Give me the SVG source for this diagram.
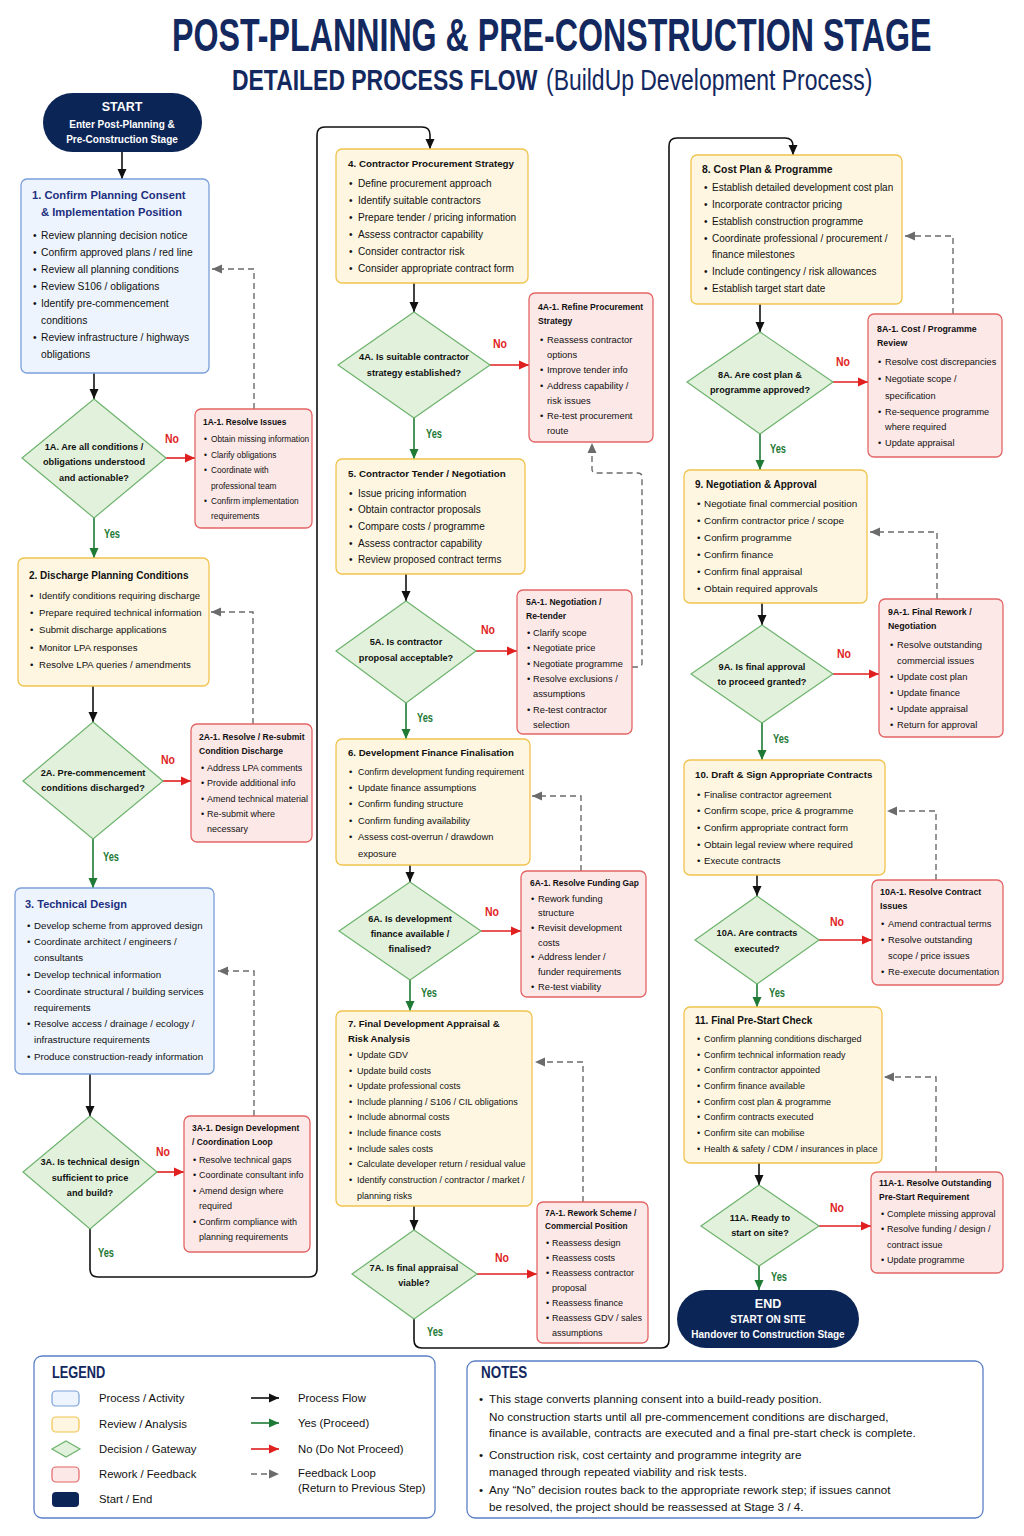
<svg xmlns="http://www.w3.org/2000/svg" width="1024" height="1536" viewBox="0 0 1024 1536">
<style>
text{font-family:"Liberation Sans",Arial,Helvetica,sans-serif;dominant-baseline:central;fill:#111}
.ttl{dominant-baseline:alphabetic;fill:#13285e;font-weight:bold}
.t{font-weight:bold}
.bt{font-weight:bold;fill:#1c2f80}
.pb>rect{fill:#edf4fd;stroke:#7b9fd9;stroke-width:1.3}
.yb>rect{fill:#fef6e1;stroke:#f1c34e;stroke-width:1.3}
.rb>rect{fill:#fde8e8;stroke:#e36464;stroke-width:1.3}
.dm>polygon{fill:#e2f1dc;stroke:#6db36d;stroke-width:1.2}
.dm text{font-weight:bold;text-anchor:middle;font-size:9.2px}
.se>rect{fill:#0c2557}
.se text{fill:#fff;font-weight:bold;text-anchor:middle}
.flow{fill:none;stroke:#111;stroke-width:1.6;marker-end:url(#ab)}
.yes{fill:none;stroke:#1e7a34;stroke-width:1.6;marker-end:url(#ag)}
.no{fill:none;stroke:#e01f1f;stroke-width:1.6;marker-end:url(#ar)}
.fb{fill:none;stroke:#6b6b6b;stroke-width:1.4;stroke-dasharray:6 4;marker-end:url(#ay)}
.ly{fill:#1e7a34;font-weight:bold;font-size:13px;text-anchor:middle}
.ln{fill:#e01f1f;font-weight:bold;font-size:13px;text-anchor:middle}
.box{fill:#fff;stroke:#5b7fc7;stroke-width:1.3}
.lt{font-size:11.3px}
.nt{font-size:11.7px}
.hd{font-weight:bold;fill:#13285e}
</style>
<defs>
<marker id="ab" viewBox="0 0 10 10" refX="10" refY="5" markerWidth="10" markerHeight="10" markerUnits="userSpaceOnUse" orient="auto"><path d="M0,0.5 L10,5 L0,9.5 z" fill="#111"/></marker>
<marker id="ag" viewBox="0 0 10 10" refX="10" refY="5" markerWidth="10" markerHeight="10" markerUnits="userSpaceOnUse" orient="auto"><path d="M0,0.5 L10,5 L0,9.5 z" fill="#1e7a34"/></marker>
<marker id="ar" viewBox="0 0 10 10" refX="10" refY="5" markerWidth="10" markerHeight="10" markerUnits="userSpaceOnUse" orient="auto"><path d="M0,0.5 L10,5 L0,9.5 z" fill="#e01f1f"/></marker>
<marker id="ay" viewBox="0 0 10 10" refX="10" refY="5" markerWidth="10" markerHeight="10" markerUnits="userSpaceOnUse" orient="auto"><path d="M0,0.5 L10,5 L0,9.5 z" fill="#6b6b6b"/></marker>
</defs>
<rect x="0" y="0" width="1024" height="1536" fill="#fff"/>

<g id="title">
<text class="ttl" transform="translate(172,51) scale(0.70,1)" x="0" y="0" font-size="46">POST-PLANNING &amp; PRE-CONSTRUCTION STAGE</text>
<text class="ttl" transform="translate(232,90) scale(0.765,1)" x="0" y="0" font-size="30">DETAILED PROCESS FLOW</text>
<text class="ttl" transform="translate(546,90) scale(0.765,1)" x="0" y="0" font-size="30" style="font-weight:normal">(BuildUp Development Process)</text>
</g>

<g id="connectors">
<path class="flow" d="M122,152 V179"/>
<path class="flow" d="M94,373 V399"/>
<path class="flow" d="M93,686 V722"/>
<path class="flow" d="M90,1074 V1116"/>
<path class="flow" d="M90,1229 V1269 Q90,1277 98,1277 H309 Q317,1277 317,1269 V135 Q317,127 325,127 H422 Q430,127 430,135 V149"/>
<path class="flow" d="M414,283 V312"/>
<path class="flow" d="M406,574 V601"/>
<path class="flow" d="M410,865 V882"/>
<path class="flow" d="M414,1206 V1230"/>
<path class="flow" d="M414,1319 V1340 Q414,1348 422,1348 H661 Q669,1348 669,1340 V146 Q669,138 677,138 H785 Q793,138 793,146 V155"/>
<path class="flow" d="M760,304 V332"/>
<path class="flow" d="M762,603 V625"/>
<path class="flow" d="M757,875 V896"/>
<path class="flow" d="M759,1163 V1185"/>

<path class="yes" d="M94,518 V558"/>
<path class="yes" d="M93,839 V888"/>
<path class="yes" d="M414,418 V459"/>
<path class="yes" d="M406,703 V739"/>
<path class="yes" d="M410,980 V1011"/>
<path class="yes" d="M760,434 V470"/>
<path class="yes" d="M762,723 V760"/>
<path class="yes" d="M757,984 V1007"/>
<path class="yes" d="M759,1266 V1290"/>

<path class="no" d="M166,458 H195"/>
<path class="no" d="M163,781 H191"/>
<path class="no" d="M157,1172 H184"/>
<path class="no" d="M490,365 H529"/>
<path class="no" d="M476,651 H517"/>
<path class="no" d="M481,931 H521"/>
<path class="no" d="M477,1274 H537"/>
<path class="no" d="M833,382 H868"/>
<path class="no" d="M833,674 H879"/>
<path class="no" d="M819,940 H872"/>
<path class="no" d="M819,1226 H871"/>

<path class="fb" d="M254,409 V269 H212"/>
<path class="fb" d="M253,724 V612 H211"/>
<path class="fb" d="M254,1116 V971 H218"/>
<path class="fb" d="M632,667 H638 Q642,667 642,663 V477 Q642,473 638,473 H596 Q592,473 592,469 V443"/>
<path class="fb" d="M581,871 V796 H532"/>
<path class="fb" d="M583,1202 V1062 H535"/>
<path class="fb" d="M953,314 V236 H905"/>
<path class="fb" d="M937,599 V532 H870"/>
<path class="fb" d="M936,880 V811 H887"/>
<path class="fb" d="M936,1172 V1077 H884"/>

<text class="ln" x="172" y="438" textLength="14" lengthAdjust="spacingAndGlyphs">No</text>
<text class="ln" x="168" y="759" textLength="14" lengthAdjust="spacingAndGlyphs">No</text>
<text class="ln" x="163" y="1151" textLength="14" lengthAdjust="spacingAndGlyphs">No</text>
<text class="ln" x="500" y="343" textLength="14" lengthAdjust="spacingAndGlyphs">No</text>
<text class="ln" x="488" y="629" textLength="14" lengthAdjust="spacingAndGlyphs">No</text>
<text class="ln" x="492" y="911" textLength="14" lengthAdjust="spacingAndGlyphs">No</text>
<text class="ln" x="502" y="1257" textLength="14" lengthAdjust="spacingAndGlyphs">No</text>
<text class="ln" x="843" y="361" textLength="14" lengthAdjust="spacingAndGlyphs">No</text>
<text class="ln" x="844" y="653" textLength="14" lengthAdjust="spacingAndGlyphs">No</text>
<text class="ln" x="837" y="921" textLength="14" lengthAdjust="spacingAndGlyphs">No</text>
<text class="ln" x="837" y="1207" textLength="14" lengthAdjust="spacingAndGlyphs">No</text>
<text class="ly" x="112" y="533" textLength="16" lengthAdjust="spacingAndGlyphs">Yes</text>
<text class="ly" x="111" y="856" textLength="16" lengthAdjust="spacingAndGlyphs">Yes</text>
<text class="ly" x="106" y="1252" textLength="16" lengthAdjust="spacingAndGlyphs">Yes</text>
<text class="ly" x="434" y="433" textLength="16" lengthAdjust="spacingAndGlyphs">Yes</text>
<text class="ly" x="425" y="717" textLength="16" lengthAdjust="spacingAndGlyphs">Yes</text>
<text class="ly" x="429" y="992" textLength="16" lengthAdjust="spacingAndGlyphs">Yes</text>
<text class="ly" x="435" y="1331" textLength="16" lengthAdjust="spacingAndGlyphs">Yes</text>
<text class="ly" x="778" y="448" textLength="16" lengthAdjust="spacingAndGlyphs">Yes</text>
<text class="ly" x="781" y="738" textLength="16" lengthAdjust="spacingAndGlyphs">Yes</text>
<text class="ly" x="777" y="992" textLength="16" lengthAdjust="spacingAndGlyphs">Yes</text>
<text class="ly" x="779" y="1276" textLength="16" lengthAdjust="spacingAndGlyphs">Yes</text>
</g>

<g id="start" class="se">
<rect x="43" y="93" width="159" height="59" rx="29.5"/>
<text x="122" y="107" font-size="12.5">START</text>
<text x="122" y="124" font-size="10">Enter Post-Planning &amp;</text>
<text x="122" y="139" font-size="10">Pre-Construction Stage</text>
</g>

<g id="n1" class="pb">
<rect x="21" y="179" width="188" height="194" rx="6"/>
<text class="bt" font-size="11.2" x="32" y="195">1. Confirm Planning Consent</text>
<text class="bt" font-size="11.2" x="41" y="212">&amp; Implementation Position</text>
<g font-size="10.3">
<text y="235"><tspan x="33">•</tspan><tspan x="41">Review planning decision notice</tspan></text>
<text y="252"><tspan x="33">•</tspan><tspan x="41">Confirm approved plans / red line</tspan></text>
<text y="269"><tspan x="33">•</tspan><tspan x="41">Review all planning conditions</tspan></text>
<text y="286"><tspan x="33">•</tspan><tspan x="41">Review S106 / obligations</tspan></text>
<text y="303"><tspan x="33">•</tspan><tspan x="41">Identify pre-commencement</tspan></text>
<text x="41" y="320">conditions</text>
<text y="337"><tspan x="33">•</tspan><tspan x="41">Review infrastructure / highways</tspan></text>
<text x="41" y="354">obligations</text>
</g>
</g>

<g id="d1A" class="dm">
<polygon points="94,399 166,458 94,518 22,458"/>
<text x="94" y="447">1A. Are all conditions /</text>
<text x="94" y="462">obligations understood</text>
<text x="94" y="478">and actionable?</text>
</g>

<g id="r1A" class="rb">
<rect x="195" y="409" width="117" height="119" rx="6"/>
<text class="t" font-size="8.4" x="203" y="422">1A-1. Resolve Issues</text>
<g font-size="8.3">
<text y="439"><tspan x="204">•</tspan><tspan x="211">Obtain missing information</tspan></text>
<text y="455"><tspan x="204">•</tspan><tspan x="211">Clarify obligations</tspan></text>
<text y="470"><tspan x="204">•</tspan><tspan x="211">Coordinate with</tspan></text>
<text x="211" y="486">professional team</text>
<text y="501"><tspan x="204">•</tspan><tspan x="211">Confirm implementation</tspan></text>
<text x="211" y="516">requirements</text>
</g>
</g>

<g id="n2" class="yb">
<rect x="18" y="558" width="191" height="128" rx="6"/>
<text class="t" font-size="10" x="29" y="575">2. Discharge Planning Conditions</text>
<g font-size="9.6">
<text y="595"><tspan x="30">•</tspan><tspan x="39">Identify conditions requiring discharge</tspan></text>
<text y="612"><tspan x="30">•</tspan><tspan x="39">Prepare required technical information</tspan></text>
<text y="629"><tspan x="30">•</tspan><tspan x="39">Submit discharge applications</tspan></text>
<text y="647"><tspan x="30">•</tspan><tspan x="39">Monitor LPA responses</tspan></text>
<text y="664"><tspan x="30">•</tspan><tspan x="39">Resolve LPA queries / amendments</tspan></text>
</g>
</g>

<g id="d2A" class="dm">
<polygon points="93,722 163,781 93,839 23,781"/>
<text x="93" y="773">2A. Pre-commencement</text>
<text x="93" y="788">conditions discharged?</text>
</g>

<g id="r2A" class="rb">
<rect x="191" y="724" width="121" height="118" rx="6"/>
<text class="t" font-size="8.6" x="199" y="737">2A-1. Resolve / Re-submit</text>
<text class="t" font-size="8.6" x="199" y="751">Condition Discharge</text>
<g font-size="9">
<text y="768"><tspan x="201">•</tspan><tspan x="207">Address LPA comments</tspan></text>
<text y="783"><tspan x="201">•</tspan><tspan x="207">Provide additional info</tspan></text>
<text y="799"><tspan x="201">•</tspan><tspan x="207">Amend technical material</tspan></text>
<text y="814"><tspan x="201">•</tspan><tspan x="207">Re-submit where</tspan></text>
<text x="207" y="829">necessary</text>
</g>
</g>

<g id="n3" class="pb">
<rect x="15" y="888" width="199" height="186" rx="6"/>
<text class="bt" font-size="11" x="25" y="904">3. Technical Design</text>
<g font-size="9.7">
<text y="925"><tspan x="27">•</tspan><tspan x="34">Develop scheme from approved design</tspan></text>
<text y="941"><tspan x="27">•</tspan><tspan x="34">Coordinate architect / engineers /</tspan></text>
<text x="34" y="957">consultants</text>
<text y="974"><tspan x="27">•</tspan><tspan x="34">Develop technical information</tspan></text>
<text y="991"><tspan x="27">•</tspan><tspan x="34">Coordinate structural / building services</tspan></text>
<text x="34" y="1007">requirements</text>
<text y="1023"><tspan x="27">•</tspan><tspan x="34">Resolve access / drainage / ecology /</tspan></text>
<text x="34" y="1039">infrastructure requirements</text>
<text y="1056"><tspan x="27">•</tspan><tspan x="34">Produce construction-ready information</tspan></text>
</g>
</g>

<g id="d3A" class="dm">
<polygon points="90,1116 157,1172 90,1229 23,1172"/>
<text x="90" y="1162">3A. Is technical design</text>
<text x="90" y="1178">sufficient to price</text>
<text x="90" y="1193">and build?</text>
</g>

<g id="r3A" class="rb">
<rect x="184" y="1116" width="126" height="136" rx="6"/>
<text class="t" font-size="8.5" x="192" y="1128">3A-1. Design Development</text>
<text class="t" font-size="8.5" x="192" y="1142">/ Coordination Loop</text>
<g font-size="9">
<text y="1160"><tspan x="193">•</tspan><tspan x="199">Resolve technical gaps</tspan></text>
<text y="1175"><tspan x="193">•</tspan><tspan x="199">Coordinate consultant info</tspan></text>
<text y="1191"><tspan x="193">•</tspan><tspan x="199">Amend design where</tspan></text>
<text x="199" y="1206">required</text>
<text y="1222"><tspan x="193">•</tspan><tspan x="199">Confirm compliance with</tspan></text>
<text x="199" y="1237">planning requirements</text>
</g>
</g>

<g id="n4" class="yb">
<rect x="336" y="149" width="192" height="134" rx="6"/>
<text class="t" font-size="9.8" x="348" y="163">4. Contractor Procurement Strategy</text>
<g font-size="10.1">
<text y="183"><tspan x="349">•</tspan><tspan x="358">Define procurement approach</tspan></text>
<text y="200"><tspan x="349">•</tspan><tspan x="358">Identify suitable contractors</tspan></text>
<text y="217"><tspan x="349">•</tspan><tspan x="358">Prepare tender / pricing information</tspan></text>
<text y="234"><tspan x="349">•</tspan><tspan x="358">Assess contractor capability</tspan></text>
<text y="251"><tspan x="349">•</tspan><tspan x="358">Consider contractor risk</tspan></text>
<text y="268"><tspan x="349">•</tspan><tspan x="358">Consider appropriate contract form</tspan></text>
</g>
</g>

<g id="d4A" class="dm">
<polygon points="414,312 490,365 414,418 338,365"/>
<text x="414" y="357">4A. Is suitable contractor</text>
<text x="414" y="373">strategy established?</text>
</g>

<g id="r4A" class="rb">
<rect x="529" y="293" width="124" height="149" rx="6"/>
<text class="t" font-size="8.6" x="538" y="307">4A-1. Refine Procurement</text>
<text class="t" font-size="8.6" x="538" y="321">Strategy</text>
<g font-size="9.4">
<text y="339"><tspan x="540">•</tspan><tspan x="547">Reassess contractor</tspan></text>
<text x="547" y="354">options</text>
<text y="369"><tspan x="540">•</tspan><tspan x="547">Improve tender info</tspan></text>
<text y="385"><tspan x="540">•</tspan><tspan x="547">Address capability /</tspan></text>
<text x="547" y="400">risk issues</text>
<text y="415"><tspan x="540">•</tspan><tspan x="547">Re-test procurement</tspan></text>
<text x="547" y="430">route</text>
</g>
</g>

<g id="n5" class="yb">
<rect x="336" y="459" width="189" height="115" rx="6"/>
<text class="t" font-size="9.8" x="348" y="473">5. Contractor Tender / Negotiation</text>
<g font-size="10">
<text y="493"><tspan x="349">•</tspan><tspan x="358">Issue pricing information</tspan></text>
<text y="509"><tspan x="349">•</tspan><tspan x="358">Obtain contractor proposals</tspan></text>
<text y="526"><tspan x="349">•</tspan><tspan x="358">Compare costs / programme</tspan></text>
<text y="543"><tspan x="349">•</tspan><tspan x="358">Assess contractor capability</tspan></text>
<text y="559"><tspan x="349">•</tspan><tspan x="358">Review proposed contract terms</tspan></text>
</g>
</g>

<g id="d5A" class="dm">
<polygon points="406,601 476,651 406,703 336,651"/>
<text x="406" y="642">5A. Is contractor</text>
<text x="406" y="658">proposal acceptable?</text>
</g>

<g id="r5A" class="rb">
<rect x="517" y="590" width="115" height="144" rx="6"/>
<text class="t" font-size="8.6" x="526" y="602">5A-1. Negotiation /</text>
<text class="t" font-size="8.6" x="526" y="616">Re-tender</text>
<g font-size="9.3">
<text y="633"><tspan x="527">•</tspan><tspan x="533">Clarify scope</tspan></text>
<text y="648"><tspan x="527">•</tspan><tspan x="533">Negotiate price</tspan></text>
<text y="664"><tspan x="527">•</tspan><tspan x="533">Negotiate programme</tspan></text>
<text y="679"><tspan x="527">•</tspan><tspan x="533">Resolve exclusions /</tspan></text>
<text x="533" y="694">assumptions</text>
<text y="710"><tspan x="527">•</tspan><tspan x="533">Re-test contractor</tspan></text>
<text x="533" y="725">selection</text>
</g>
</g>

<g id="n6" class="yb">
<rect x="336" y="739" width="194" height="126" rx="6"/>
<text class="t" font-size="9.6" x="348" y="752">6. Development Finance Finalisation</text>
<g font-size="9.4">
<text y="771"><tspan x="349">•</tspan><tspan x="358" textLength="166" lengthAdjust="spacingAndGlyphs">Confirm development funding requirement</tspan></text>
<text y="787"><tspan x="349">•</tspan><tspan x="358">Update finance assumptions</tspan></text>
<text y="803"><tspan x="349">•</tspan><tspan x="358">Confirm funding structure</tspan></text>
<text y="820"><tspan x="349">•</tspan><tspan x="358">Confirm funding availability</tspan></text>
<text y="836"><tspan x="349">•</tspan><tspan x="358">Assess cost-overrun / drawdown</tspan></text>
<text x="358" y="853">exposure</text>
</g>
</g>

<g id="d6A" class="dm">
<polygon points="410,882 481,931 410,980 339,931"/>
<text x="410" y="919">6A. Is development</text>
<text x="410" y="934">finance available /</text>
<text x="410" y="949">finalised?</text>
</g>

<g id="r6A" class="rb">
<rect x="521" y="871" width="125" height="126" rx="6"/>
<text class="t" font-size="8.4" x="530" y="883">6A-1. Resolve Funding Gap</text>
<g font-size="9.3">
<text y="899"><tspan x="531">•</tspan><tspan x="538">Rework funding</tspan></text>
<text x="538" y="913">structure</text>
<text y="928"><tspan x="531">•</tspan><tspan x="538">Revisit development</tspan></text>
<text x="538" y="943">costs</text>
<text y="957"><tspan x="531">•</tspan><tspan x="538">Address lender /</tspan></text>
<text x="538" y="972">funder requirements</text>
<text y="987"><tspan x="531">•</tspan><tspan x="538">Re-test viability</tspan></text>
</g>
</g>

<g id="n7" class="yb">
<rect x="336" y="1011" width="196" height="195" rx="6"/>
<text class="t" font-size="9.6" x="348" y="1023">7. Final Development Appraisal &amp;</text>
<text class="t" font-size="9.6" x="348" y="1038">Risk Analysis</text>
<g font-size="9">
<text y="1055"><tspan x="349">•</tspan><tspan x="357">Update GDV</tspan></text>
<text y="1071"><tspan x="349">•</tspan><tspan x="357">Update build costs</tspan></text>
<text y="1086"><tspan x="349">•</tspan><tspan x="357">Update professional costs</tspan></text>
<text y="1102"><tspan x="349">•</tspan><tspan x="357">Include planning / S106 / CIL obligations</tspan></text>
<text y="1117"><tspan x="349">•</tspan><tspan x="357">Include abnormal costs</tspan></text>
<text y="1133"><tspan x="349">•</tspan><tspan x="357">Include finance costs</tspan></text>
<text y="1149"><tspan x="349">•</tspan><tspan x="357">Include sales costs</tspan></text>
<text y="1164"><tspan x="349">•</tspan><tspan x="357">Calculate developer return / residual value</tspan></text>
<text y="1180"><tspan x="349">•</tspan><tspan x="357">Identify construction / contractor / market /</tspan></text>
<text x="357" y="1196">planning risks</text>
</g>
</g>

<g id="d7A" class="dm">
<polygon points="414,1230 477,1274 414,1319 352,1274"/>
<text x="414" y="1268">7A. Is final appraisal</text>
<text x="414" y="1283">viable?</text>
</g>

<g id="r7A" class="rb">
<rect x="537" y="1202" width="111" height="141" rx="6"/>
<text class="t" font-size="8.3" x="545" y="1213">7A-1. Rework Scheme /</text>
<text class="t" font-size="8.3" x="545" y="1226">Commercial Position</text>
<g font-size="9">
<text y="1243"><tspan x="546">•</tspan><tspan x="552">Reassess design</tspan></text>
<text y="1258"><tspan x="546">•</tspan><tspan x="552">Reassess costs</tspan></text>
<text y="1273"><tspan x="546">•</tspan><tspan x="552">Reassess contractor</tspan></text>
<text x="552" y="1288">proposal</text>
<text y="1303"><tspan x="546">•</tspan><tspan x="552">Reassess finance</tspan></text>
<text y="1318"><tspan x="546">•</tspan><tspan x="552">Reassess GDV / sales</tspan></text>
<text x="552" y="1333">assumptions</text>
</g>
</g>

<g id="n8" class="yb">
<rect x="691" y="155" width="211" height="149" rx="6"/>
<text class="t" font-size="10.4" x="702" y="169">8. Cost Plan &amp; Programme</text>
<g font-size="10">
<text y="187"><tspan x="704">•</tspan><tspan x="712">Establish detailed development cost plan</tspan></text>
<text y="204"><tspan x="704">•</tspan><tspan x="712">Incorporate contractor pricing</tspan></text>
<text y="221"><tspan x="704">•</tspan><tspan x="712">Establish construction programme</tspan></text>
<text y="238"><tspan x="704">•</tspan><tspan x="712">Coordinate professional / procurement /</tspan></text>
<text x="712" y="254">finance milestones</text>
<text y="271"><tspan x="704">•</tspan><tspan x="712">Include contingency / risk allowances</tspan></text>
<text y="288"><tspan x="704">•</tspan><tspan x="712">Establish target start date</tspan></text>
</g>
</g>

<g id="d8A" class="dm">
<polygon points="760,332 833,382 760,434 687,382"/>
<text x="760" y="375">8A. Are cost plan &amp;</text>
<text x="760" y="390">programme approved?</text>
</g>

<g id="r8A" class="rb">
<rect x="868" y="314" width="134" height="143" rx="6"/>
<text class="t" font-size="8.8" x="877" y="329">8A-1. Cost / Programme</text>
<text class="t" font-size="8.8" x="877" y="343">Review</text>
<g font-size="9.2">
<text y="362"><tspan x="878">•</tspan><tspan x="885">Resolve cost discrepancies</tspan></text>
<text y="379"><tspan x="878">•</tspan><tspan x="885">Negotiate scope /</tspan></text>
<text x="885" y="396">specification</text>
<text y="412"><tspan x="878">•</tspan><tspan x="885">Re-sequence programme</tspan></text>
<text x="885" y="427">where required</text>
<text y="443"><tspan x="878">•</tspan><tspan x="885">Update appraisal</tspan></text>
</g>
</g>

<g id="n9" class="yb">
<rect x="684" y="470" width="183" height="133" rx="6"/>
<text class="t" font-size="10" x="695" y="484">9. Negotiation &amp; Approval</text>
<g font-size="9.9">
<text y="503"><tspan x="697">•</tspan><tspan x="704">Negotiate final commercial position</tspan></text>
<text y="520"><tspan x="697">•</tspan><tspan x="704">Confirm contractor price / scope</tspan></text>
<text y="537"><tspan x="697">•</tspan><tspan x="704">Confirm programme</tspan></text>
<text y="554"><tspan x="697">•</tspan><tspan x="704">Confirm finance</tspan></text>
<text y="571"><tspan x="697">•</tspan><tspan x="704">Confirm final appraisal</tspan></text>
<text y="588"><tspan x="697">•</tspan><tspan x="704">Obtain required approvals</tspan></text>
</g>
</g>

<g id="d9A" class="dm">
<polygon points="762,625 833,674 762,723 691,674"/>
<text x="762" y="667">9A. Is final approval</text>
<text x="762" y="682">to proceed granted?</text>
</g>

<g id="r9A" class="rb">
<rect x="879" y="599" width="124" height="138" rx="6"/>
<text class="t" font-size="8.8" x="888" y="612">9A-1. Final Rework /</text>
<text class="t" font-size="8.8" x="888" y="626">Negotiation</text>
<g font-size="9.4">
<text y="644"><tspan x="890">•</tspan><tspan x="897">Resolve outstanding</tspan></text>
<text x="897" y="660">commercial issues</text>
<text y="676"><tspan x="890">•</tspan><tspan x="897">Update cost plan</tspan></text>
<text y="692"><tspan x="890">•</tspan><tspan x="897">Update finance</tspan></text>
<text y="708"><tspan x="890">•</tspan><tspan x="897">Update appraisal</tspan></text>
<text y="724"><tspan x="890">•</tspan><tspan x="897">Return for approval</tspan></text>
</g>
</g>

<g id="n10" class="yb">
<rect x="684" y="760" width="201" height="115" rx="6"/>
<text class="t" font-size="9.7" x="695" y="774">10. Draft &amp; Sign Appropriate Contracts</text>
<g font-size="9.65">
<text y="794"><tspan x="697">•</tspan><tspan x="704">Finalise contractor agreement</tspan></text>
<text y="810"><tspan x="697">•</tspan><tspan x="704">Confirm scope, price &amp; programme</tspan></text>
<text y="827"><tspan x="697">•</tspan><tspan x="704">Confirm appropriate contract form</tspan></text>
<text y="844"><tspan x="697">•</tspan><tspan x="704">Obtain legal review where required</tspan></text>
<text y="860"><tspan x="697">•</tspan><tspan x="704">Execute contracts</tspan></text>
</g>
</g>

<g id="d10A" class="dm">
<polygon points="757,896 819,940 757,984 695,940"/>
<text x="757" y="933">10A. Are contracts</text>
<text x="757" y="949">executed?</text>
</g>

<g id="r10A" class="rb">
<rect x="872" y="880" width="131" height="105" rx="6"/>
<text class="t" font-size="8.8" x="880" y="892">10A-1. Resolve Contract</text>
<text class="t" font-size="8.8" x="880" y="906">Issues</text>
<g font-size="9.3">
<text y="924"><tspan x="881">•</tspan><tspan x="888">Amend contractual terms</tspan></text>
<text y="940"><tspan x="881">•</tspan><tspan x="888">Resolve outstanding</tspan></text>
<text x="888" y="956">scope / price issues</text>
<text y="972"><tspan x="881">•</tspan><tspan x="888">Re-execute documentation</tspan></text>
</g>
</g>

<g id="n11" class="yb">
<rect x="684" y="1007" width="198" height="156" rx="6"/>
<text class="t" font-size="10" x="695" y="1020">11. Final Pre-Start Check</text>
<g font-size="9">
<text y="1039"><tspan x="697">•</tspan><tspan x="704">Confirm planning conditions discharged</tspan></text>
<text y="1055"><tspan x="697">•</tspan><tspan x="704">Confirm technical information ready</tspan></text>
<text y="1070"><tspan x="697">•</tspan><tspan x="704">Confirm contractor appointed</tspan></text>
<text y="1086"><tspan x="697">•</tspan><tspan x="704">Confirm finance available</tspan></text>
<text y="1102"><tspan x="697">•</tspan><tspan x="704">Confirm cost plan &amp; programme</tspan></text>
<text y="1117"><tspan x="697">•</tspan><tspan x="704">Confirm contracts executed</tspan></text>
<text y="1133"><tspan x="697">•</tspan><tspan x="704">Confirm site can mobilise</tspan></text>
<text y="1149"><tspan x="697">•</tspan><tspan x="704">Health &amp; safety / CDM / insurances in place</tspan></text>
</g>
</g>

<g id="d11A" class="dm">
<polygon points="759,1185 819,1226 759,1266 701,1226"/>
<text x="760" y="1218">11A. Ready to</text>
<text x="760" y="1233">start on site?</text>
</g>

<g id="r11A" class="rb">
<rect x="871" y="1172" width="132" height="101" rx="6"/>
<text class="t" font-size="8.5" x="879" y="1183">11A-1. Resolve Outstanding</text>
<text class="t" font-size="8.5" x="879" y="1197">Pre-Start Requirement</text>
<g font-size="9">
<text y="1214"><tspan x="881">•</tspan><tspan x="887">Complete missing approval</tspan></text>
<text y="1229"><tspan x="881">•</tspan><tspan x="887">Resolve funding / design /</tspan></text>
<text x="887" y="1245">contract issue</text>
<text y="1260"><tspan x="881">•</tspan><tspan x="887">Update programme</tspan></text>
</g>
</g>

<g id="end" class="se">
<rect x="677" y="1290" width="182" height="58" rx="29"/>
<text x="768" y="1304" font-size="12.5">END</text>
<text x="768" y="1319" font-size="10">START ON SITE</text>
<text x="768" y="1334" font-size="10">Handover to Construction Stage</text>
</g>

<g id="legend">
<rect class="box" x="34" y="1356" width="401" height="162" rx="8"/>
<text class="hd" transform="translate(52,1372) scale(0.8,1)" x="0" y="0" font-size="16">LEGEND</text>
<rect x="52" y="1391" width="27" height="15" rx="4" fill="#edf4fd" stroke="#7b9fd9" stroke-width="1.2"/>
<rect x="52" y="1417" width="27" height="15" rx="4" fill="#fef6e1" stroke="#f1c34e" stroke-width="1.2"/>
<polygon points="66,1441 80,1449 66,1457 52,1449" fill="#e2f1dc" stroke="#6db36d" stroke-width="1.2"/>
<rect x="52" y="1467" width="27" height="15" rx="4" fill="#fde8e8" stroke="#e36464" stroke-width="1.2"/>
<rect x="52" y="1492" width="27" height="15" rx="4" fill="#0c2557"/>
<text class="lt" x="99" y="1398">Process / Activity</text>
<text class="lt" x="99" y="1424">Review / Analysis</text>
<text class="lt" x="99" y="1449">Decision / Gateway</text>
<text class="lt" x="99" y="1474">Rework / Feedback</text>
<text class="lt" x="99" y="1499">Start / End</text>
<path class="flow" d="M251,1398 H279"/>
<path class="yes" d="M251,1423 H279"/>
<path class="no" d="M251,1449 H279"/>
<path class="fb" d="M251,1474 H279"/>
<text class="lt" x="298" y="1398">Process Flow</text>
<text class="lt" x="298" y="1423">Yes (Proceed)</text>
<text class="lt" x="298" y="1449">No (Do Not Proceed)</text>
<text class="lt" x="298" y="1473">Feedback Loop</text>
<text class="lt" x="298" y="1488">(Return to Previous Step)</text>
</g>

<g id="notes">
<rect class="box" x="467" y="1361" width="516" height="157" rx="8"/>
<text class="hd" transform="translate(481,1373) scale(0.84,1)" x="0" y="0" font-size="16">NOTES</text>
<text class="nt" y="1398"><tspan x="479">•</tspan><tspan x="489">This stage converts planning consent into a build-ready position.</tspan></text>
<text class="nt" x="489" y="1416">No construction starts until all pre-commencement conditions are discharged,</text>
<text class="nt" x="489" y="1432">finance is available, contracts are executed and a final pre-start check is complete.</text>
<text class="nt" y="1454"><tspan x="479">•</tspan><tspan x="489">Construction risk, cost certainty and programme integrity are</tspan></text>
<text class="nt" x="489" y="1471">managed through repeated viability and risk tests.</text>
<text class="nt" y="1489"><tspan x="479">•</tspan><tspan x="489">Any “No” decision routes back to the appropriate rework step; if issues cannot</tspan></text>
<text class="nt" x="489" y="1506">be resolved, the project should be reassessed at Stage 3 / 4.</text>
</g>
</svg>
